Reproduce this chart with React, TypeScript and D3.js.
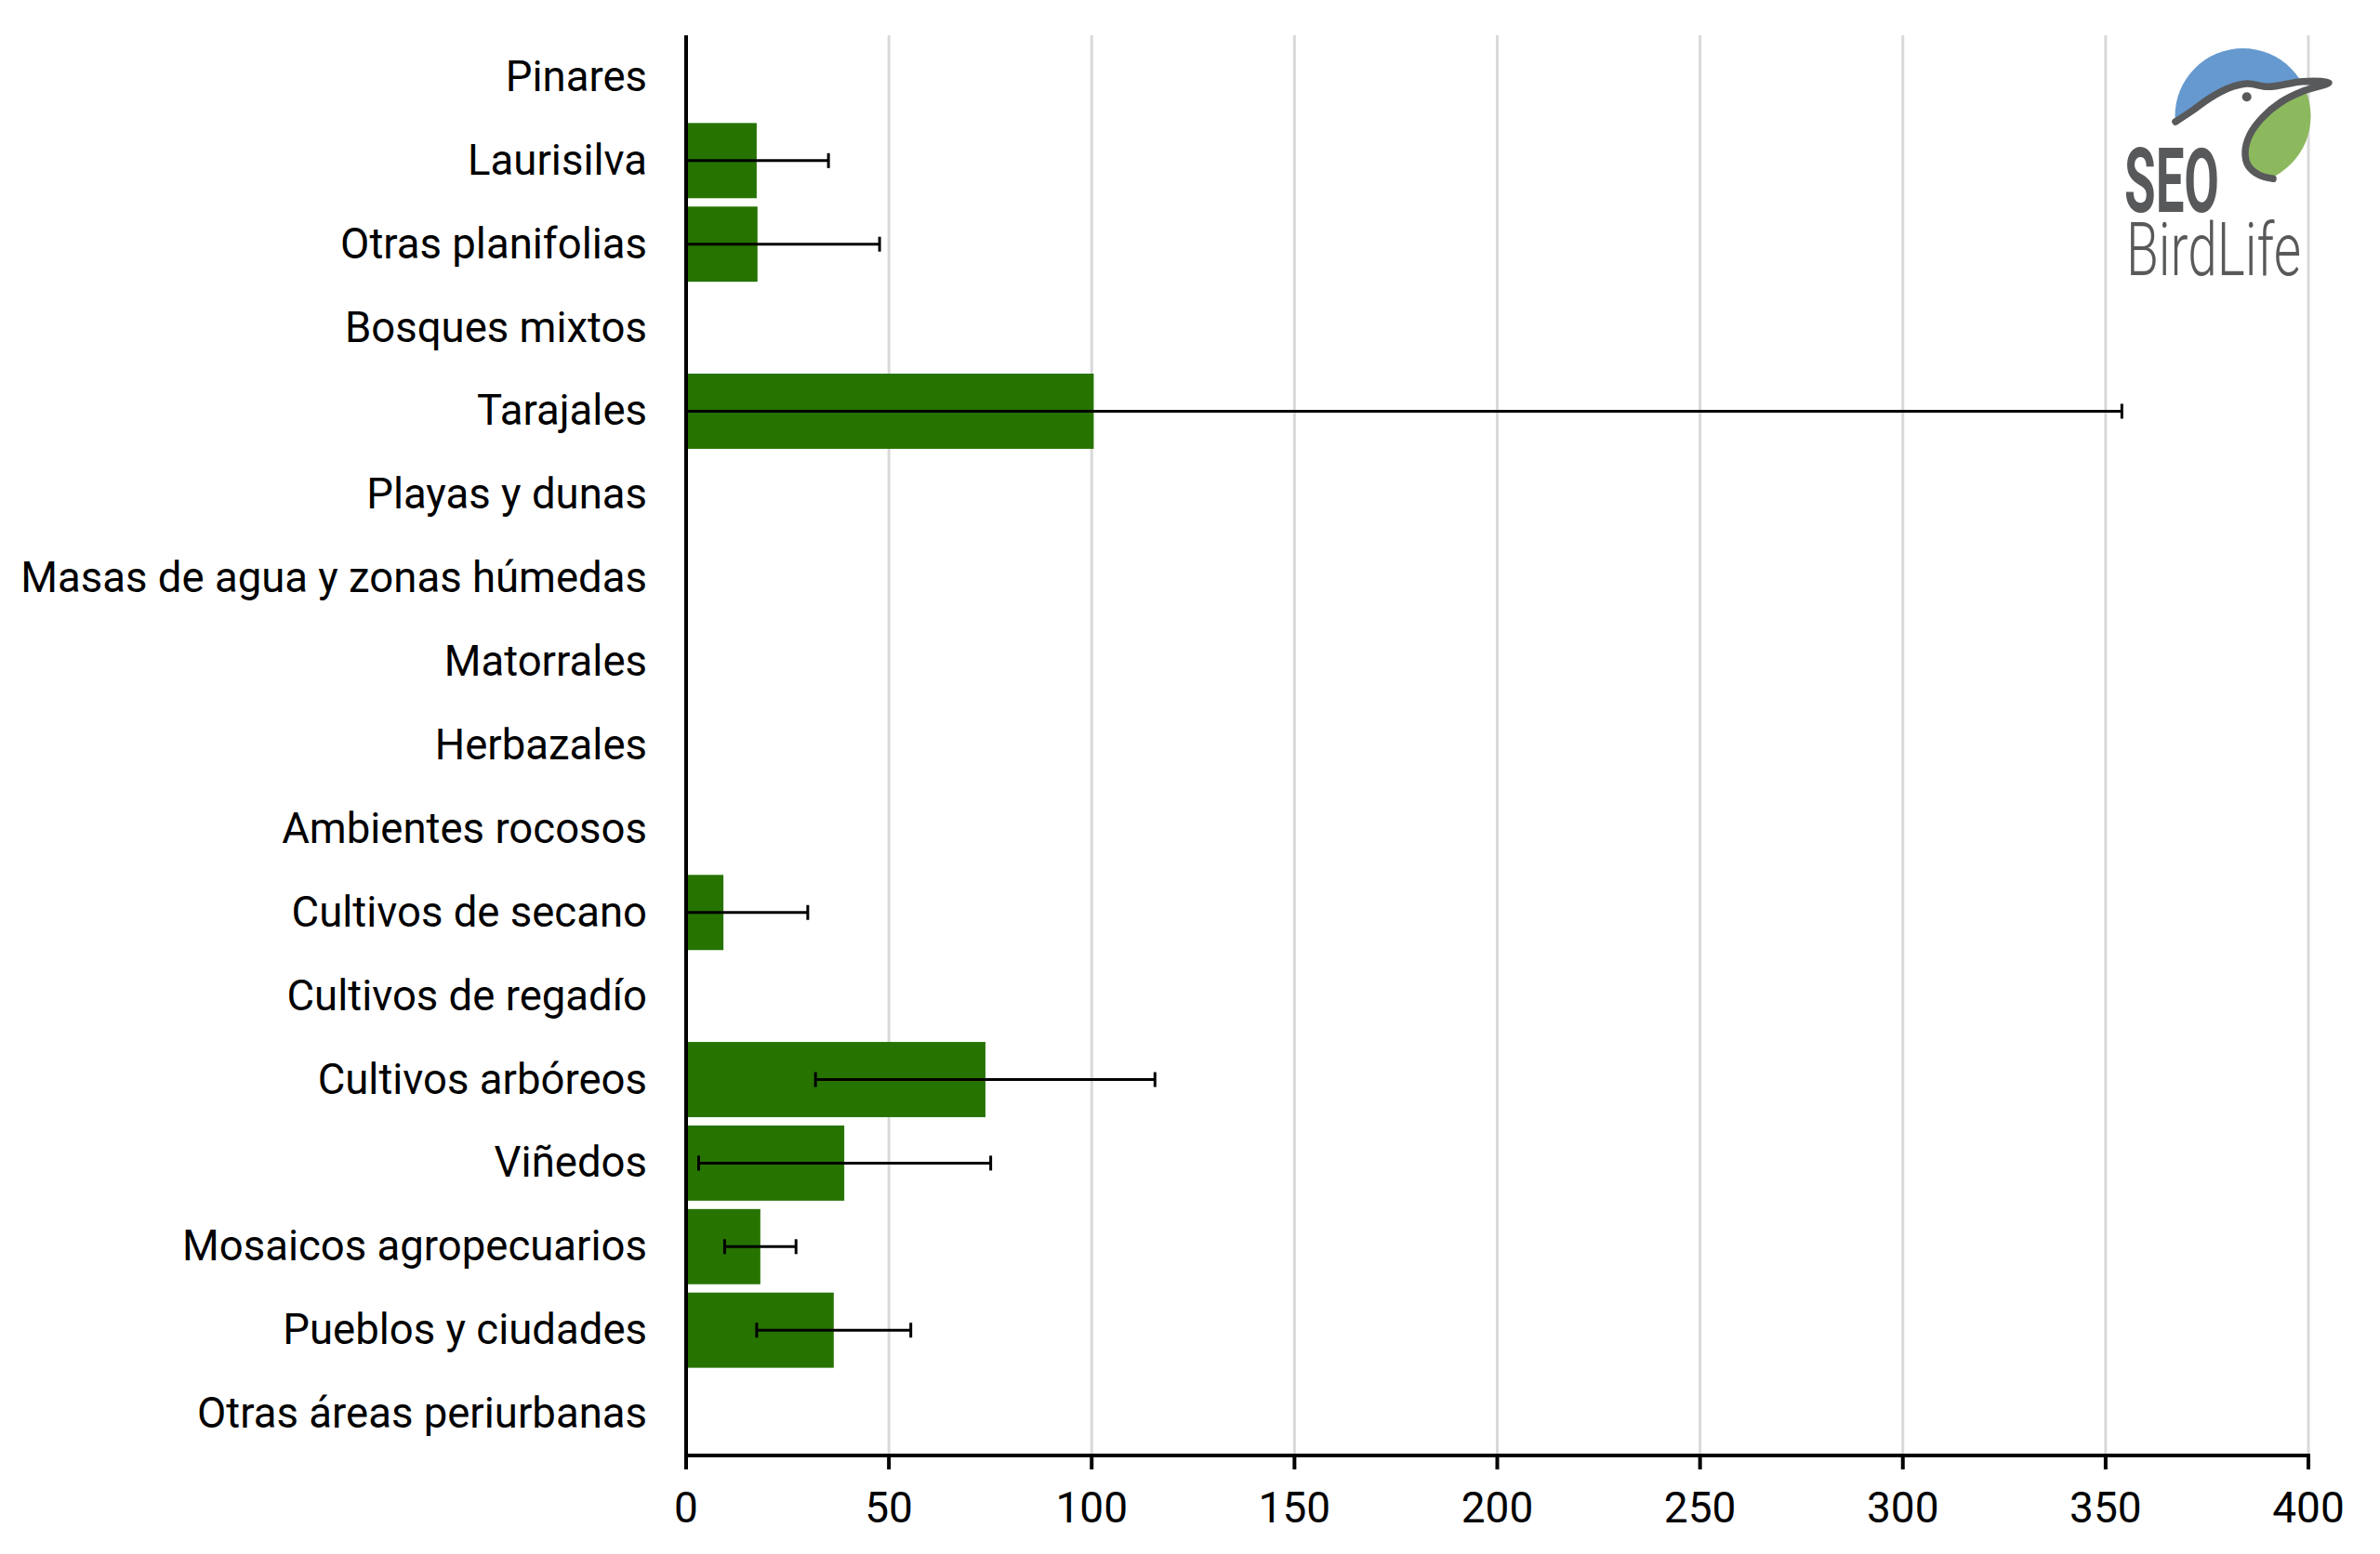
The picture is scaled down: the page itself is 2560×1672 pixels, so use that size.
import React from "react";
import * as d3 from "d3";

const categories = [
  "Pinares",
  "Laurisilva",
  "Otras planifolias",
  "Bosques mixtos",
  "Tarajales",
  "Playas y dunas",
  "Masas de agua y zonas húmedas",
  "Matorrales",
  "Herbazales",
  "Ambientes rocosos",
  "Cultivos de secano",
  "Cultivos de regadío",
  "Cultivos arbóreos",
  "Viñedos",
  "Mosaicos agropecuarios",
  "Pueblos y ciudades",
  "Otras áreas periurbanas",
];

const values = [0, 17.4, 17.6, 0, 100.5, 0, 0, 0, 0, 0, 9.2, 0, 73.8, 39.0, 18.3, 36.4, 0];
const errLow: (number | null)[] = [null, 0, 0, null, 0, null, null, null, null, null, 0, null, 31.9, 3.1, 9.5, 17.4, null];
const errHigh: (number | null)[] = [null, 35.1, 47.7, null, 354.0, null, null, null, null, null, 30.0, null, 115.6, 75.1, 27.1, 55.4, null];

const xTicks = [0, 50, 100, 150, 200, 250, 300, 350, 400];

const W = 2560;
const H = 1672;
const left = 738;
const right = 2483;
const top = 38;
const bottom = 1566;

const BAR = "#267300";
const GRID = "#d9d9d9";
const LOGO_GRAY = "#58595b";
const LOGO_BLUE = "#6699cf";
const LOGO_GREEN = "#8cb85e";

// logo shape points
const headLine: [number, number][] = [
  [2340, 131],
  [2356.7, 120],
  [2376.7, 105.7],
  [2396.7, 95],
  [2416.7, 90],
  [2440, 93.3],
  [2476.7, 87.7],
  [2505, 89],
];
const throatLine: [number, number][] = [
  [2505, 89],
  [2476.7, 98.3],
  [2453.3, 110],
  [2433.3, 126.7],
  [2420, 145],
  [2415, 163.3],
  [2418.3, 178.3],
  [2430, 188.3],
  [2445, 192.3],
];

export default function App() {
  const x = d3.scaleLinear().domain([0, 400]).range([left, right]);
  const y = d3
    .scaleBand<string>()
    .domain(categories)
    .range([top, bottom])
    .paddingInner(0.1)
    .paddingOuter(0.05);

  const font = "Roboto, 'Noto Sans', Arial, sans-serif";
  const capH = 8;

  const curve = d3.line<[number, number]>().curve(d3.curveCatmullRom.alpha(0.5));
  const headPath = curve(headLine) || "";
  const throatPath = curve(throatLine) || "";
  const outlinePath = curve([...headLine, ...throatLine.slice(1)]) || "";

  const bluePoly = headPath + " L2520,30 L2320,30 L2320,131 Z";
  const greenPoly = throatPath + " L2445,215 L2520,215 L2520,89 Z";

  return (
    <svg
      width={W}
      height={H}
      viewBox={`0 0 ${W} ${H}`}
      style={{ position: "absolute", left: 0, top: 0, background: "#fff" }}
    >
      <rect x={0} y={0} width={W} height={H} fill="#fff" />
      <defs>
        <clipPath id="logoCircle">
          <circle cx={2412.5} cy={125} r={73} />
        </clipPath>
      </defs>

      {/* gridlines */}
      {xTicks
        .filter((t) => t > 0)
        .map((t) => (
          <line key={"g" + t} x1={x(t)} x2={x(t)} y1={top} y2={bottom} stroke={GRID} strokeWidth={3} />
        ))}

      {/* bars */}
      {categories.map((c, i) =>
        values[i] > 0 ? (
          <rect
            key={"b" + c}
            x={x(0)}
            y={y(c)!}
            width={x(values[i]) - x(0)}
            height={y.bandwidth()}
            fill={BAR}
          />
        ) : null
      )}

      {/* error bars */}
      {categories.map((c, i) => {
        const lo = errLow[i];
        const hi = errHigh[i];
        if (lo === null || hi === null) return null;
        const cy = y(c)! + y.bandwidth() / 2;
        return (
          <g key={"e" + c} stroke="#000" strokeWidth={3}>
            <line x1={x(lo)} x2={x(hi)} y1={cy} y2={cy} />
            <line x1={x(lo)} x2={x(lo)} y1={cy - capH} y2={cy + capH} />
            <line x1={x(hi)} x2={x(hi)} y1={cy - capH} y2={cy + capH} />
          </g>
        );
      })}

      {/* axes */}
      <line x1={left} x2={left} y1={top} y2={bottom + 2} stroke="#000" strokeWidth={4} />
      <line x1={left - 2} x2={right + 2} y1={bottom} y2={bottom} stroke="#000" strokeWidth={4} />
      {xTicks.map((t) => (
        <g key={"t" + t}>
          <line x1={x(t)} x2={x(t)} y1={bottom} y2={bottom + 15} stroke="#000" strokeWidth={4} />
          <text x={x(t)} y={1638} textAnchor="middle" fontFamily={font} fontSize={46} fill="#000">
            {t}
          </text>
        </g>
      ))}

      {/* category labels */}
      {categories.map((c) => (
        <text
          key={"l" + c}
          x={696}
          y={y(c)! + y.bandwidth() / 2}
          dy="0.33em"
          textAnchor="end"
          fontFamily={font}
          fontSize={45.5}
          fill="#000"
        >
          {c}
        </text>
      ))}

      {/* logo */}
      <g>
        <g clipPath="url(#logoCircle)">
          <path d={bluePoly} fill={LOGO_BLUE} />
          <path d={greenPoly} fill={LOGO_GREEN} />
        </g>
        <path
          d={outlinePath}
          fill="none"
          stroke={LOGO_GRAY}
          strokeWidth={7.5}
          strokeLinejoin="round"
          strokeLinecap="round"
        />
        <circle cx={2416.7} cy={104.3} r={5} fill={LOGO_GRAY} />
        <text
          x={2285}
          y={228}
          fontFamily={font}
          fontWeight={700}
          fontSize={96}
          fill={LOGO_GRAY}
          textLength={102}
          lengthAdjust="spacingAndGlyphs"
        >
          SEO
        </text>
        <text
          x={2287}
          y={296}
          fontFamily={font}
          fontWeight={300}
          fontSize={80}
          fill={LOGO_GRAY}
          textLength={188}
          lengthAdjust="spacingAndGlyphs"
        >
          BirdLife
        </text>
      </g>
    </svg>
  );
}
